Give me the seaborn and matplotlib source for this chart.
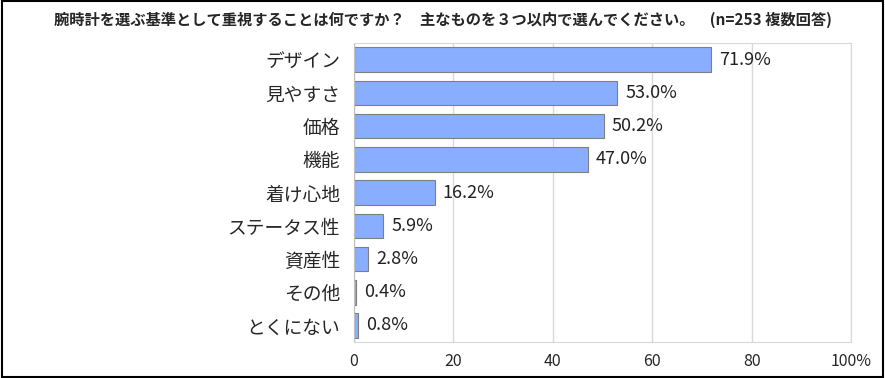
import matplotlib
matplotlib.use("Agg")
import matplotlib.pyplot as plt
import seaborn as sns
import pandas as pd

# データ
categories = ["デザイン", "見やすさ", "価格", "機能", "着け心地", "ステータス性", "資産性", "その他", "とくにない"]
values = [71.9, 53.0, 50.2, 47.0, 16.2, 5.9, 2.8, 0.4, 0.8]
xticks = [0, 20, 40, 60, 80, 100]
xtick_labels = ["0", "20", "40", "60", "80", "100%"]
title = "腕時計を選ぶ基準として重視することは何ですか？　主なものを３つ以内で選んでください。　(n=253 複数回答)"

df = pd.DataFrame({"項目": categories, "割合": values})

sns.set_style("white")
plt.rcParams["font.family"] = ["Noto Sans CJK JP", "DejaVu Sans"]

fig = plt.figure(figsize=(8.85, 3.78), dpi=100)
ax = fig.add_axes([0.4, 0.095, 0.5616, 0.791])

sns.barplot(data=df, x="割合", y="項目", orient="h", color="#8AAEFF",
            saturation=1, edgecolor="#7F7F7F", linewidth=0.8, width=0.74, ax=ax)

for i, v in enumerate(values):
    ax.text(v + 1.6, i, f"{v:.1f}%", va="center", ha="left", fontsize=13, color="#222222")

ax.set_xlim(0, 100)
ax.set_xticks(xticks)
ax.set_xticklabels(xtick_labels, fontsize=11.5)
ax.tick_params(axis="y", labelsize=13.5, length=0, pad=10)
ax.tick_params(axis="x", length=0, pad=8)
ax.grid(axis="x", color="#D9D9D9", linewidth=1)
ax.set_axisbelow(True)
ax.set_xlabel("")
ax.set_ylabel("")
for s in ["top", "right", "bottom"]:
    ax.spines[s].set_color("#D9D9D9")
ax.spines["left"].set_color("#BFBFBF")

fig.text(0.5, 0.947, title, ha="center", va="center", fontsize=11, fontweight="bold")

# 外枠
fig.patches.append(plt.Rectangle((0.002, 0.003), 0.996, 0.994, transform=fig.transFigure,
                                 fill=False, edgecolor="black", linewidth=1.5))

fig.savefig("out.png", dpi=100)
